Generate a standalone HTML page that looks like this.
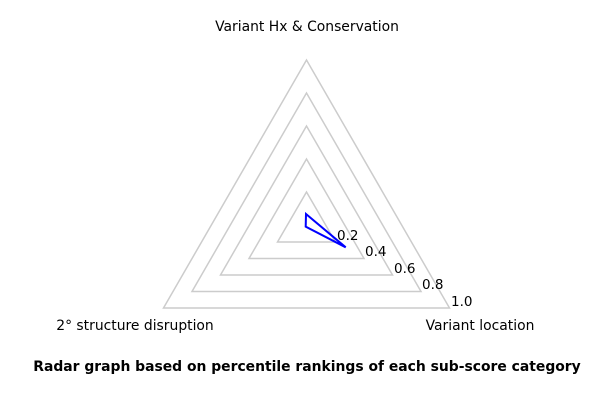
<!DOCTYPE html>
<html><head><meta charset="utf-8"><style>
html,body{margin:0;padding:0;background:#fff}
svg{display:block;font-family:"DejaVu Sans","Liberation Sans",sans-serif}
</style></head><body>
<svg width="600" height="400" viewBox="0 0 600 400">
<g fill="none" stroke="#cccccc" stroke-width="1.5">
<polygon points="306.5,60 449.5,308 163.5,308"/>
<polygon points="306.5,93 421,291.5 192,291.5"/>
<polygon points="306.5,126 392.5,275 220.5,275"/>
<polygon points="306.5,159 364,258.5 249,258.5"/>
<polygon points="306.5,192 335.5,242 277.5,242"/>
</g>
<polygon points="306,214 345.7,247.3 305.7,226.7" fill="none" stroke="#0000ff" stroke-width="2"/>
<g font-size="13.5" fill="#000">
<text x="337" y="240">0.2</text>
<text x="365" y="256">0.4</text>
<text x="394" y="273">0.6</text>
<text x="422" y="289">0.8</text>
<text x="451" y="306">1.0</text>
</g>
<g font-size="13.9" fill="#000">
<text x="307" y="31" text-anchor="middle">Variant Hx &amp; Conservation</text>
<text x="135" y="330" text-anchor="middle">2° structure disruption</text>
<text x="480" y="330" text-anchor="middle">Variant location</text>
<text x="307" y="371" text-anchor="middle" font-weight="bold">Radar graph based on percentile rankings of each sub-score category</text>
</g>
</svg>
</body></html>
